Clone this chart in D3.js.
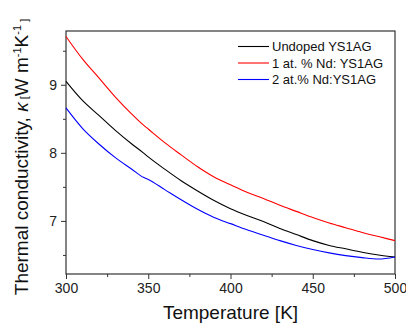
<!DOCTYPE html>
<html>
<head>
<meta charset="utf-8">
<script src="https://cdn.jsdelivr.net/npm/d3@7"></script>
<style>
  body { margin: 0; background: #fff; }
  svg { display: block; font-family: "Liberation Sans", Arial, sans-serif; }
</style>
</head>
<body>
<svg id="chart" width="406" height="325"></svg>
<script>
// temperature grid [K]
var temps = [300, 310, 320, 330, 340, 347, 350, 360, 370, 380, 390, 400,
             410, 420, 430, 440, 450, 460, 470, 480, 490, 500];

var undoped = [9.05, 8.77, 8.55, 8.33, 8.13, 8.00, 7.94, 7.76, 7.59, 7.44, 7.30, 7.18,
               7.08, 6.99, 6.89, 6.80, 6.71, 6.64, 6.59, 6.54, 6.50, 6.47];
var nd1 = [9.71, 9.38, 9.10, 8.82, 8.57, 8.41, 8.35, 8.15, 7.97, 7.795, 7.645, 7.53,
           7.42, 7.33, 7.23, 7.14, 7.05, 6.97, 6.90, 6.83, 6.77, 6.71];
var nd2 = [8.66, 8.36, 8.13, 7.93, 7.76, 7.64, 7.61, 7.46, 7.31, 7.17, 7.05, 6.96,
           6.87, 6.79, 6.71, 6.64, 6.58, 6.53, 6.49, 6.46, 6.44, 6.47];

var seriesNames = ["Undoped YS1AG", "1 at. % Nd: YS1AG", "2 at.% Nd:YS1AG"];
var seriesColors = ["#000000", "#ff0000", "#0000ff"];
var xTicks = [300, 350, 400, 450, 500];
var yTicks = [7, 8, 9];

var margin = {left: 66, right: 11, top: 31, bottom: 51};
var width = 406, height = 325;

var svg = d3.select("#chart");
var x = d3.scaleLinear().domain([300, 500]).range([margin.left, width - margin.right]);
var y = d3.scaleLinear().domain([6.22, 9.79]).range([height - margin.bottom, margin.top]);

// x axis: major + minor ticks
var xAxis = svg.append("g").attr("transform", "translate(0," + (height - margin.bottom) + ")");
xAxis.call(d3.axisBottom(x).tickValues(d3.range(325, 500, 50)).tickSize(3).tickFormat(""));
xAxis.call(function(g) {
  g.append("g").call(d3.axisBottom(x).tickValues(xTicks).tickSize(5).tickPadding(4).tickFormat(d3.format("d")));
});
var yAxis = svg.append("g").attr("transform", "translate(" + margin.left + ",0)");
yAxis.call(d3.axisLeft(y).tickValues([6.5, 7.5, 8.5, 9.5]).tickSize(3).tickFormat(""));
yAxis.call(function(g) {
  g.append("g").call(d3.axisLeft(y).tickValues(yTicks).tickSize(5).tickPadding(4).tickFormat(d3.format("d")));
});
svg.selectAll(".domain").remove();
svg.selectAll(".tick line").attr("stroke", "#333");
svg.selectAll(".tick text").attr("font-size", 14).attr("fill", "#222")
  .attr("font-family", "'Liberation Sans', Arial, sans-serif");

// frame
svg.append("rect")
  .attr("x", x(300)).attr("y", y(9.79))
  .attr("width", x(500) - x(300)).attr("height", y(6.22) - y(9.79))
  .attr("fill", "none").attr("stroke", "#333").attr("stroke-width", 1.2);

// lines
var line = d3.line()
  .x(function(d, i) { return x(temps[i]); })
  .y(function(d) { return y(d); })
  .curve(d3.curveMonotoneX);

[undoped, nd1, nd2].forEach(function(s, i) {
  svg.append("path").attr("d", line(s))
    .attr("fill", "none").attr("stroke", seriesColors[i]).attr("stroke-width", 1.1);
});

// legend
var legend = svg.append("g");
seriesNames.forEach(function(name, i) {
  var ly = 46.5 + i * 16.5;
  legend.append("line").attr("x1", 238).attr("x2", 269).attr("y1", ly).attr("y2", ly)
    .attr("stroke", seriesColors[i]).attr("stroke-width", 1.1);
  legend.append("text").attr("x", 272).attr("y", ly + 4.7).attr("font-size", 13)
    .attr("fill", "#111").text(name);
});

// axis titles
svg.append("text").attr("x", x(400)).attr("y", 319).attr("text-anchor", "middle")
  .attr("font-size", 19).attr("fill", "#111").text("Temperature [K]");

var yt = svg.append("text").attr("transform", "translate(28,157) rotate(-90)")
  .attr("text-anchor", "middle").attr("font-size", 19).attr("fill", "#111");
yt.append("tspan").text("Thermal conductivity, ");
yt.append("tspan").attr("font-style", "italic").text("\u03ba");
yt.append("tspan").attr("font-size", 11).text(" [");
yt.append("tspan").text("W m");
yt.append("tspan").attr("font-size", 11).attr("dy", -7).text("-1");
yt.append("tspan").attr("dy", 7).text("K");
yt.append("tspan").attr("font-size", 11).attr("dy", -7).text("-1");
yt.append("tspan").attr("font-size", 11).attr("dy", 7).text(" ]");
</script>
</body>
</html>
